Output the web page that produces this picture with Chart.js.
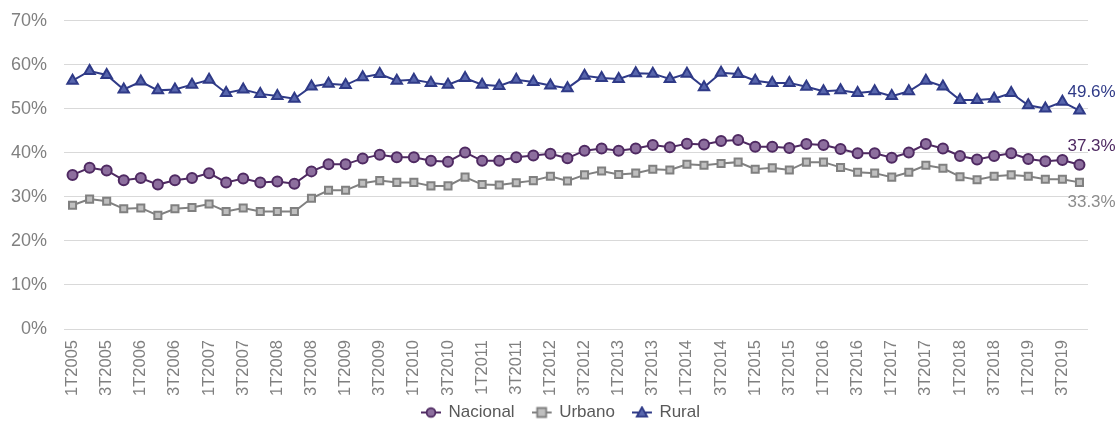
<!DOCTYPE html>
<html>
<head>
<meta charset="utf-8">
<script src="https://cdn.jsdelivr.net/npm/chart.js@4/dist/chart.umd.min.js"></script>
<style>
html, body { margin: 0; padding: 0; background: #fff; }
#wrap { width: 1115px; height: 423px; position: relative; }
</style>
</head>
<body>
<div id="wrap"><canvas id="grafico"></canvas></div>
<script>
// categorias trimestrales 1T2005 .. 4T2019
const anios = [2005, 2006, 2007, 2008, 2009, 2010, 2011, 2012, 2013, 2014, 2015, 2016, 2017, 2018, 2019];
const trimestres = ['1T', '2T', '3T', '4T'];
const categorias = [];
anios.forEach(a => trimestres.forEach(t => categorias.push(t + a)));

const nacional = [
  35.0, 36.6, 36.0, 33.8, 34.3, 32.8, 33.8, 34.3, 35.4,
  33.3, 34.2, 33.3, 33.5, 33.0, 35.8, 37.4, 37.4,
  38.7, 39.6, 39.0, 39.0, 38.2, 38.0, 40.1, 38.2, 38.2,
  39.0, 39.4, 39.8, 38.8, 40.5, 41.0, 40.5, 41.0,
  41.8, 41.3, 42.1, 41.9, 42.7, 42.9, 41.4, 41.4, 41.1,
  42.0, 41.8, 40.9, 39.9, 39.9, 38.9, 40.1, 42.0,
  41.0, 39.3, 38.5, 39.3, 39.9, 38.6, 38.1, 38.4, 37.3
];
const urbano = [
  28.1, 29.5, 29.0, 27.3, 27.5, 25.8, 27.3, 27.6, 28.4,
  26.7, 27.5, 26.7, 26.7, 26.7, 29.7, 31.5, 31.5,
  33.1, 33.7, 33.3, 33.3, 32.5, 32.5, 34.5, 32.8, 32.7,
  33.2, 33.7, 34.7, 33.6, 35.0, 35.9, 35.1, 35.4,
  36.3, 36.1, 37.4, 37.2, 37.6, 37.9, 36.3, 36.6, 36.1,
  37.9, 37.9, 36.7, 35.6, 35.4, 34.5, 35.6, 37.2,
  36.5, 34.6, 33.9, 34.7, 35.0, 34.7, 34.0, 34.0, 33.3
];
const rural = [
  56.4, 58.6, 57.7, 54.4, 56.2, 54.2, 54.4, 55.5, 56.6,
  53.6, 54.4, 53.4, 52.9, 52.3, 55.1, 55.7, 55.4,
  57.2, 57.9, 56.4, 56.6, 55.9, 55.5, 57.0, 55.5, 55.2,
  56.6, 56.1, 55.3, 54.7, 57.5, 57.0, 56.8, 58.1,
  58.0, 56.8, 58.0, 54.9, 58.2, 57.9, 56.4, 55.9, 55.9,
  55.0, 54.0, 54.2, 53.6, 54.0, 52.9, 54.0, 56.4,
  55.1, 52.0, 52.0, 52.3, 53.6, 50.8, 50.1, 51.6, 49.6
];
const ticksY = [0, 10, 20, 30, 40, 50, 60, 70];

const colNac = '#4f2a62', rellNac = '#8d6f9e';
const colUrb = '#808080', rellUrb = '#bfbfbf';
const colRur = '#2f3a87', rellRur = '#5866ad';

// icono de leyenda: linea + marcador (estilo Excel)
function icono(color, relleno, forma) {
  const c = document.createElement('canvas');
  c.width = 22; c.height = 14;
  const g = c.getContext('2d');
  g.strokeStyle = color; g.lineWidth = 2;
  g.beginPath(); g.moveTo(0, 7); g.lineTo(20, 7); g.stroke();
  g.fillStyle = relleno; g.lineWidth = 1.8;
  g.beginPath();
  if (forma === 'circle') g.arc(10, 7, 4.4, 0, Math.PI * 2);
  else if (forma === 'rect') g.rect(5.5, 2.5, 9, 9);
  else { g.moveTo(10, 1.8); g.lineTo(15.2, 11.2); g.lineTo(4.8, 11.2); g.closePath(); }
  g.fill(); g.stroke();
  return c;
}

const etiquetaFinal = [
  { color: colNac, dy: -18 },
  { color: '#8c8c8c', dy: 20 },
  { color: colRur, dy: -18 }
];

const etiquetasPlugin = {
  id: 'etiquetasFinales',
  afterDatasetsDraw(chart) {
    const ctx = chart.ctx;
    chart.data.datasets.forEach((ds, i) => {
      const meta = chart.getDatasetMeta(i);
      const p = meta.data[meta.data.length - 1];
      const v = ds.data[ds.data.length - 1];
      ctx.save();
      ctx.font = '17px Arial';
      ctx.fillStyle = etiquetaFinal[i].color;
      ctx.textAlign = 'left';
      ctx.textBaseline = 'middle';
      ctx.fillText(v.toFixed(1) + '%', p.x - 12, p.y + etiquetaFinal[i].dy);
      ctx.restore();
    });
  }
};

// leyenda: menos alto y algo mas arriba, como en el original
const ajusteLeyenda = {
  id: 'ajusteLeyenda',
  beforeLayout(chart) {
    const lg = chart.legend;
    if (lg && !lg._fitPatched) {
      const fit = lg.fit;
      lg.fit = function () { fit.call(this); this.height = 28; };
      lg._fitPatched = true;
    }
  },
  afterLayout(chart) {
    const lg = chart.legend;
    lg.top -= 11;
    lg.bottom = chart.height;
    lg.left += 18; lg.right += 18;
  }
};

function serie(label, data, color, relleno, forma) {
  return {
    label: label,
    data: data,
    borderColor: color,
    backgroundColor: relleno,
    borderWidth: 2,
    pointStyle: forma,
    pointRadius: forma === 'triangle' ? 6 : 5,
    pointBorderWidth: 2,
    pointBorderColor: color,
    pointBackgroundColor: relleno,
    tension: 0,
    legendIcon: icono(color, relleno, forma)
  };
}

window.addEventListener('load', () => {
  const ctx = document.querySelector('#grafico').getContext('2d');
  new Chart(ctx, {
    type: 'line',
    data: {
      labels: categorias,
      datasets: [
        serie('Nacional', nacional, colNac, rellNac, 'circle'),
        serie('Urbano', urbano, colUrb, rellUrb, 'rect'),
        serie('Rural', rural, colRur, rellRur, 'triangle')
      ]
    },
    options: {
      responsive: true,
      maintainAspectRatio: false,
      animation: false,
      layout: { padding: { left: 0, right: 27, top: 0, bottom: 0 } },
      scales: {
        x: {
          offset: true,
          grid: { display: false },
          border: { display: false },
          ticks: {
            autoSkip: false,
            minRotation: 90,
            maxRotation: 90,
            padding: 3,
            color: '#808080',
            font: { family: 'Arial', size: 16.5 },
            callback: function (v, i) { return i % 2 === 0 ? this.getLabelForValue(v) : ''; }
          },
          afterFit: s => { s.height = 66; }
        },
        y: {
          min: ticksY[0],
          max: ticksY[ticksY.length - 1],
          grid: { color: '#d9d9d9', lineWidth: 1, drawTicks: true, tickLength: 7, tickColor: 'rgba(0,0,0,0)' },
          border: { display: false },
          ticks: {
            stepSize: 10,
            padding: 10,
            color: '#808080',
            font: { family: 'Arial', size: 18 },
            callback: v => v + '%'
          },
          afterFit: s => { s.width = 64; }
        }
      },
      plugins: {
        legend: {
          position: 'bottom',
          labels: {
            usePointStyle: true,
            pointStyleWidth: 16,
            padding: 20,
            color: '#595959',
            font: { family: 'Arial', size: 17 },
            generateLabels: chart => chart.data.datasets.map((ds, i) => ({
              text: ds.label,
              pointStyle: ds.legendIcon,
              fontColor: '#595959',
              datasetIndex: i,
              hidden: false,
              lineWidth: 0
            }))
          }
        },
        tooltip: { enabled: false }
      }
    },
    plugins: [etiquetasPlugin, ajusteLeyenda]
  });
});
</script>
</body>
</html>
